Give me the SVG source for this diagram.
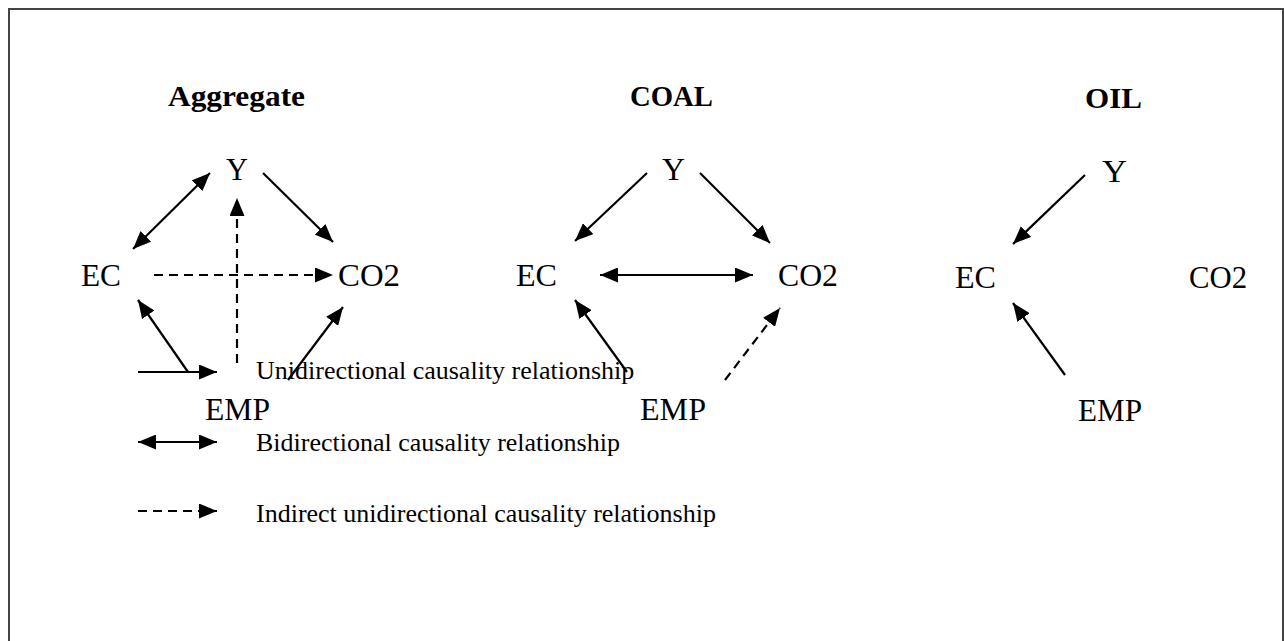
<svg xmlns="http://www.w3.org/2000/svg" width="1284" height="641" viewBox="0 0 1284 641">
<defs>
<marker id="ah" markerUnits="userSpaceOnUse" markerWidth="18" markerHeight="15" refX="18" refY="7.5" orient="auto-start-reverse" viewBox="0 0 18 15">
<path d="M0,0 L18,7.5 L0,15 z" fill="#000"/>
</marker>
<style>
.node{font-family:"Liberation Serif","Times New Roman",serif;font-size:31px;fill:#000}
.title{font-family:"Liberation Serif","Times New Roman",serif;font-size:30px;font-weight:bold;fill:#000}
.leg{font-family:"Liberation Serif","Times New Roman",serif;font-size:26px;fill:#000}
.s{stroke:#000;stroke-width:2.2;fill:none}
.d{stroke:#000;stroke-width:2.2;fill:none;stroke-dasharray:9,6}
.e{marker-end:url(#ah)}
.b{marker-start:url(#ah);marker-end:url(#ah)}
</style>
</defs>
<rect x="9" y="9" width="1274" height="640" fill="#fff" stroke="#444" stroke-width="2"/>

<g id="aggregate">
<text class="title" x="168" y="106" textLength="137" lengthAdjust="spacingAndGlyphs">Aggregate</text>
<g id="agg-Y"><text class="node" x="226" y="180" textLength="22" lengthAdjust="spacingAndGlyphs">Y</text></g>
<g id="agg-EC"><text class="node" x="81" y="286" textLength="40" lengthAdjust="spacingAndGlyphs">EC</text></g>
<g id="agg-CO2"><text class="node" x="338" y="286" textLength="62" lengthAdjust="spacingAndGlyphs">CO2</text></g>
<g id="agg-EMP"><text class="node" x="205" y="420" textLength="65" lengthAdjust="spacingAndGlyphs">EMP</text></g>
</g>

<g id="coal">
<text class="title" x="630" y="106" textLength="83" lengthAdjust="spacingAndGlyphs">COAL</text>
<g id="coal-Y"><text class="node" x="662" y="180" textLength="23" lengthAdjust="spacingAndGlyphs">Y</text></g>
<g id="coal-EC"><text class="node" x="516" y="286" textLength="41" lengthAdjust="spacingAndGlyphs">EC</text></g>
<g id="coal-CO2"><text class="node" x="778" y="286" textLength="60" lengthAdjust="spacingAndGlyphs">CO2</text></g>
<g id="coal-EMP"><text class="node" x="640" y="420" textLength="66" lengthAdjust="spacingAndGlyphs">EMP</text></g>
</g>

<g id="oil">
<text class="title" x="1085" y="108" textLength="57" lengthAdjust="spacingAndGlyphs">OIL</text>
<g id="oil-Y"><text class="node" x="1102" y="182" textLength="25" lengthAdjust="spacingAndGlyphs">Y</text></g>
<g id="oil-EC"><text class="node" x="955" y="288" textLength="41" lengthAdjust="spacingAndGlyphs">EC</text></g>
<g id="oil-CO2"><text class="node" x="1189" y="288" textLength="58" lengthAdjust="spacingAndGlyphs">CO2</text></g>
<g id="oil-EMP"><text class="node" x="1078" y="421" textLength="64" lengthAdjust="spacingAndGlyphs">EMP</text></g>
</g>

<g id="legend">
<text class="leg" x="256" y="379">Unidirectional causality relationship</text>
<text class="leg" x="256" y="451">Bidirectional causality relationship</text>
<text class="leg" x="256" y="522">Indirect unidirectional causality relationship</text>
</g>

<g id="connectors">
<!-- Aggregate -->
<line class="s b" x1="133" y1="249" x2="210" y2="173"/>
<line class="s e" x1="263" y1="173" x2="333" y2="242"/>
<line class="d e" x1="154" y1="275" x2="333" y2="275"/>
<line class="d e" x1="237" y1="363" x2="237" y2="198"/>
<line class="s e" x1="188" y1="372" x2="138" y2="300"/>
<line class="s e" x1="288" y1="380" x2="343" y2="307"/>
<!-- COAL -->
<line class="s e" x1="647" y1="173" x2="575" y2="241"/>
<line class="s e" x1="700" y1="173" x2="770" y2="243"/>
<line class="s b" x1="600" y1="275" x2="753" y2="275"/>
<line class="s e" x1="627" y1="372" x2="575" y2="300"/>
<line class="d e" x1="725" y1="380" x2="780" y2="308"/>
<!-- OIL -->
<line class="s e" x1="1085" y1="175" x2="1013" y2="244"/>
<line class="s e" x1="1065" y1="375" x2="1013" y2="303"/>
<!-- Legend -->
<line class="s e" x1="138" y1="372" x2="217" y2="372"/>
<line class="s b" x1="138" y1="442" x2="217" y2="442"/>
<line class="d e" x1="138" y1="511" x2="217" y2="511"/>
</g>
</svg>
